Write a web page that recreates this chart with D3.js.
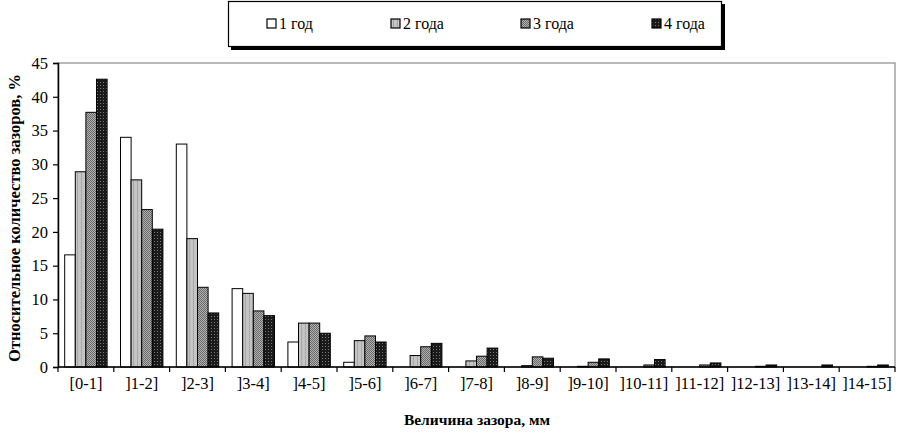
<!DOCTYPE html>
<html>
<head>
<meta charset="utf-8">
<script src="https://cdn.jsdelivr.net/npm/d3@7"></script>
<style>
  body { margin: 0; background: #fff; }
  svg text { font-family: "Liberation Serif", "Times New Roman", serif; fill: #000; }
</style>
</head>
<body>
<svg id="chart" width="900" height="434"></svg>
<script>
// gap size classes, mm
var categories = ['[0-1]', ']1-2]', ']2-3]', ']3-4]', ']4-5]', ']5-6]', ']6-7]', ']7-8]',
  ']8-9]', ']9-10]', ']10-11]', ']11-12]', ']12-13]', ']13-14]', ']14-15]'];
var seriesNames = ['1 год', '2 года', '3 года', '4 года'];
// relative share of gaps, %
var year1 = [16.6, 34.0, 33.0, 11.6, 3.7, 0.7, 0, 0, 0, 0, 0, 0, 0, 0, 0];
var year2 = [28.9, 27.7, 19.0, 10.9, 6.5, 3.9, 1.7, 0.9, 0.2, 0.1, 0, 0, 0, 0, 0];
var year3 = [37.7, 23.3, 11.8, 8.3, 6.5, 4.6, 3.0, 1.6, 1.5, 0.7, 0.3, 0.3, 0.1, 0, 0.1];
var year4 = [42.6, 20.4, 8.0, 7.6, 5.0, 3.7, 3.5, 2.8, 1.3, 1.2, 1.1, 0.6, 0.3, 0.3, 0.3];
var yTicks = [0, 5, 10, 15, 20, 25, 30, 35, 40, 45];

var series = [year1, year2, year3, year4];
var fills = ['#fff', 'url(#p2)', 'url(#p3)', 'url(#p4)'];

var svg = d3.select('#chart');
var margin = {top: 63, right: 5, bottom: 67, left: 58};
var W = 900, H = 434;
var serif = '"Liberation Serif", "Times New Roman", serif';

// fill patterns, roughly like the old excel hatches
var defs = svg.append('defs');
var p2 = defs.append('pattern').attr('id', 'p2').attr('width', 4).attr('height', 4)
  .attr('patternUnits', 'userSpaceOnUse');
p2.append('rect').attr('width', 4).attr('height', 4).attr('fill', '#c4c4c4');
p2.append('rect').attr('x', 1).attr('width', 1).attr('height', 4).attr('fill', '#a8a8a8');

var p3 = defs.append('pattern').attr('id', 'p3').attr('width', 2).attr('height', 2)
  .attr('patternUnits', 'userSpaceOnUse');
p3.append('rect').attr('width', 2).attr('height', 2).attr('fill', '#b0b0b0');
p3.append('rect').attr('width', 1).attr('height', 1).attr('fill', '#6a6a6a');
p3.append('rect').attr('x', 1).attr('y', 1).attr('width', 1).attr('height', 1).attr('fill', '#6a6a6a');

var p4 = defs.append('pattern').attr('id', 'p4').attr('width', 3).attr('height', 3)
  .attr('patternUnits', 'userSpaceOnUse');
p4.append('rect').attr('width', 3).attr('height', 3).attr('fill', '#1a1a1a');
p4.append('rect').attr('x', 1).attr('y', 1).attr('width', 1).attr('height', 1).attr('fill', '#777');

var x = d3.scaleBand().domain(categories)
  .range([margin.left, W - margin.right]).paddingInner(0.24).paddingOuter(0.12);
var xOuter = d3.scaleBand().domain(categories).range([margin.left, W - margin.right]);
var y = d3.scaleLinear().domain([0, 45]).range([H - margin.bottom, margin.top]);
var xs = d3.scaleBand().domain(d3.range(series.length)).range([0, x.bandwidth()]);

// plot frame
svg.append('rect')
  .attr('x', margin.left).attr('y', margin.top)
  .attr('width', W - margin.right - margin.left).attr('height', H - margin.bottom - margin.top)
  .attr('fill', 'none').attr('stroke', '#8a8a8a').attr('stroke-width', 1.2);

// bars (zero values are not drawn)
series.forEach(function(vals, si) {
  var pts = vals.map(function(v, i) { return {cat: categories[i], v: v}; })
    .filter(function(d) { return d.v > 0; });
  svg.append('g').selectAll('rect').data(pts).join('rect')
    .attr('x', function(d) { return x(d.cat) + xs(si); })
    .attr('y', function(d) { return y(d.v); })
    .attr('width', xs.bandwidth())
    .attr('height', function(d) { return y(0) - y(d.v); })
    .attr('fill', fills[si])
    .attr('stroke', '#000').attr('stroke-width', 1);
});

// y axis
var yAxis = svg.append('g').attr('transform', 'translate(' + margin.left + ',0)')
  .call(d3.axisLeft(y).tickValues(yTicks).tickSize(5).tickPadding(5));
yAxis.attr('font-family', serif);
yAxis.select('.domain').attr('stroke', '#000').attr('stroke-width', 1.5);
yAxis.selectAll('.tick line').attr('stroke', '#000').attr('stroke-width', 1.2);
yAxis.selectAll('text').attr('font-size', 16.5).attr('fill', '#000');

// x axis: ticks at category boundaries
var xg = svg.append('g').attr('transform', 'translate(0,' + y(0) + ')');
xg.append('line').attr('x1', margin.left).attr('x2', W - margin.right)
  .attr('stroke', '#000').attr('stroke-width', 1.5);
xg.selectAll('line.tk').data(categories.concat(['end'])).join('line').attr('class', 'tk')
  .attr('x1', function(d, i) { return i < categories.length ? xOuter(d) : W - margin.right; })
  .attr('x2', function(d, i) { return i < categories.length ? xOuter(d) : W - margin.right; })
  .attr('y1', 0).attr('y2', 5).attr('stroke', '#000').attr('stroke-width', 1.2);
xg.selectAll('text').data(categories).join('text')
  .attr('x', function(d) { return xOuter(d) + xOuter.bandwidth() / 2; })
  .attr('y', 22).attr('text-anchor', 'middle').attr('font-size', 16.5).text(function(d) { return d; });

// axis titles
svg.append('text').attr('x', 477).attr('y', 425).attr('text-anchor', 'middle')
  .attr('font-size', 15.5).attr('font-weight', 'bold').text('Величина зазора, мм');
svg.append('text').attr('transform', 'translate(20,' + 218 + ') rotate(-90)')
  .attr('text-anchor', 'middle').attr('font-size', 16.5).attr('font-weight', 'bold')
  .text('Относительное количество зазоров, %');

// legend with shadow
var lg = svg.append('g');
lg.append('rect').attr('x', 231).attr('y', 4).attr('width', 494).attr('height', 46).attr('fill', '#000');
lg.append('rect').attr('x', 228.5).attr('y', 1.5).attr('width', 493).attr('height', 45)
  .attr('fill', '#fff').attr('stroke', '#000').attr('stroke-width', 1.2);
var legX = [267, 391, 521, 652];
seriesNames.forEach(function(name, i) {
  lg.append('rect').attr('x', legX[i]).attr('y', 19).attr('width', 9).attr('height', 9)
    .attr('fill', fills[i]).attr('stroke', '#000').attr('stroke-width', 1.2);
  lg.append('text').attr('x', legX[i] + 12).attr('y', 29).attr('font-size', 16).text(name);
});
</script>
</body>
</html>
